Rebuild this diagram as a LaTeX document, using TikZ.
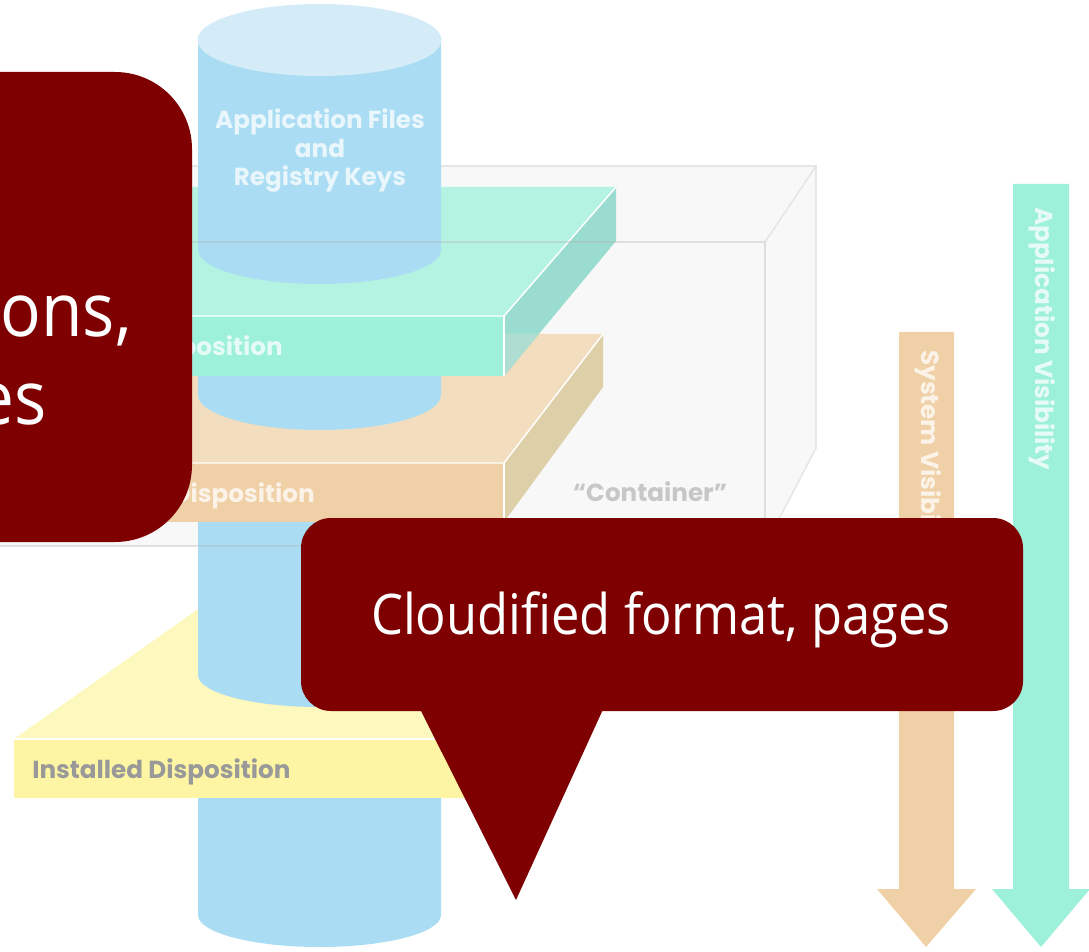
\documentclass[tikz,border=0pt]{standalone}
\usepackage{fontspec}
\setmainfont[FakeStretch=0.905]{Open Sans}
\newfontfamily\labelfont{Poppins}
\definecolor{crimsonbox}{HTML}{7F0000}
\definecolor{cyl}{HTML}{AADDF3}
\definecolor{cyltop}{HTML}{D4ECF8}
\definecolor{gfront}{HTML}{9DF0D9}
\definecolor{gtop}{HTML}{B4F3E2}
\definecolor{gside}{HTML}{9ADDD0}
\definecolor{gover}{HTML}{B0DDD2}
\definecolor{ofront}{HTML}{F0D0A6}
\definecolor{otop}{HTML}{F2DDBE}
\definecolor{oside}{HTML}{DDCFA7}
\definecolor{yfront}{HTML}{FDF5A3}
\definecolor{ytop}{HTML}{FDF8BD}
\definecolor{boxfill}{HTML}{F8F8F8}
\definecolor{boxline}{HTML}{E6E6E6}
\tikzset{
  edgeline/.style={white,line width=1.1pt},
  frontline/.style={draw=black!30,opacity=.35,line width=1.2pt},
  backline/.style={draw=boxline,line width=1.2pt},
  slablabel/.style={inner sep=0pt,font=\labelfont\bfseries\fontsize{18.5}{18.5}\selectfont},
  whitelabel/.style={slablabel,text=white,text opacity=.75},
  greylabel/.style={slablabel,text=black!40},
  bigtext/.style={inner sep=0pt,text=white,font=\fontsize{42}{42}\selectfont},
  hugetext/.style={inner sep=0pt,text=white,font=\fontsize{56}{56}\selectfont}
}
\begin{document}
\begin{tikzpicture}[x=0.75pt,y=-0.75pt]
\useasboundingbox (0,0) rectangle (1089,952);
\clip (0,0) rectangle (1089,952);
% container back
\fill[boxfill] (-10,166) -- (816,166) -- (816,448) -- (765,546) -- (-10,546) -- cycle;
\draw[backline] (-10,166) -- (816,166) -- (816,448) -- (765,546);
\draw[backline] (765,242) -- (816,166);
% lowest cylinder piece
\fill[cyl] (198,600) -- (441,600) -- (441,915) arc[start angle=0,end angle=180,x radius=121.5,y radius=32] -- cycle;
% yellow slab
\fill[ytop] (14,739) -- (211,600) -- (603,600) -- (504,739) -- cycle;
\fill[yfront] (14,739) rectangle (504,798);
\draw[edgeline] (14,739) -- (504,739);
% cylinder piece 3
\fill[cyl] (198,500) -- (441,500) -- (441,675) arc[start angle=0,end angle=180,x radius=121.5,y radius=32] -- cycle;
% orange slab
\fill[otop] (14,463) -- (113,334) -- (603,334) -- (504,463) -- cycle;
\fill[oside] (504,463) -- (603,334) -- (603,387) -- (504,522) -- cycle;
\fill[ofront] (14,463) rectangle (504,522);
\draw[edgeline] (14,463) -- (504,463) -- (603,334);
\draw[edgeline] (504,463) -- (504,522);
% cylinder piece 2
\fill[cyl] (198,360) -- (441,360) -- (441,395) arc[start angle=0,end angle=180,x radius=121.5,y radius=35] -- cycle;
% green slab
\fill[gtop] (14,316) -- (126,187) -- (616,187) -- (504,316) -- cycle;
\fill[gside] (504,316) -- (616,187) -- (616,241) -- (504,376) -- cycle;
\fill[gover] (504,334) -- (539,334) -- (504,376) -- cycle;
\fill[gfront] (14,316) rectangle (504,376);
\draw[edgeline] (14,316) -- (504,316) -- (616,187);
\draw[edgeline] (504,316) -- (504,376);
% top cylinder piece
\fill[cyl] (198,40) -- (441,40) -- (441,250) arc[start angle=0,end angle=180,x radius=121.5,y radius=34] -- cycle;
\fill[cyltop] (319.5,40) ellipse[x radius=122,y radius=36];
% container front edges
\draw[frontline] (-10,242) -- (765,242) -- (765,546) -- (-10,546);
% labels
\node[whitelabel,align=center] (files) at (320,150.5) {Application Files\\[2.5pt]and\\[2.5pt]Registry Keys};
\node[whitelabel,anchor=east] (greenlabel) at (283,349) {Disposition};
\node[whitelabel,anchor=east] (orangelabel) at (315,496) {Disposition};
\node[greylabel,text=black!22,anchor=center] (containerlabel) at (650,492) {“Container”};
\node[greylabel,anchor=west] (installed) at (32,772) {Installed Disposition};
% visibility arrows
\fill[ofront] (899,332) -- (954,332) -- (954,889) -- (976,889) -- (926,947) -- (877,889) -- (899,889) -- cycle;
\fill[gfront] (1013,184) -- (1069,184) -- (1069,889) -- (1090,889) -- (1041,947) -- (992,889) -- (1013,889) -- cycle;
\node[whitelabel,rotate=-90,anchor=west] (sysvis) at (928,350) {System Visibility};
\node[whitelabel,rotate=-90,anchor=west] (appvis) at (1042,207) {Application Visibility};
% callouts
\fill[crimsonbox,rounded corners=57.75pt] (-120,72) rectangle (192,542);
\fill[crimsonbox] (418,705) -- (516,900) -- (605,705) -- cycle;
\fill[crimsonbox,rounded corners=22.5pt] (301,518) rectangle (1023,711);
\node[hugetext,anchor=base east] (ons) at (132,336) {ons,};
\node[hugetext,anchor=base east] (es) at (47,424) {es};
\node[bigtext,anchor=base] (cloud) at (661,634) {Cloudified format, pages};
\end{tikzpicture}
\end{document}
